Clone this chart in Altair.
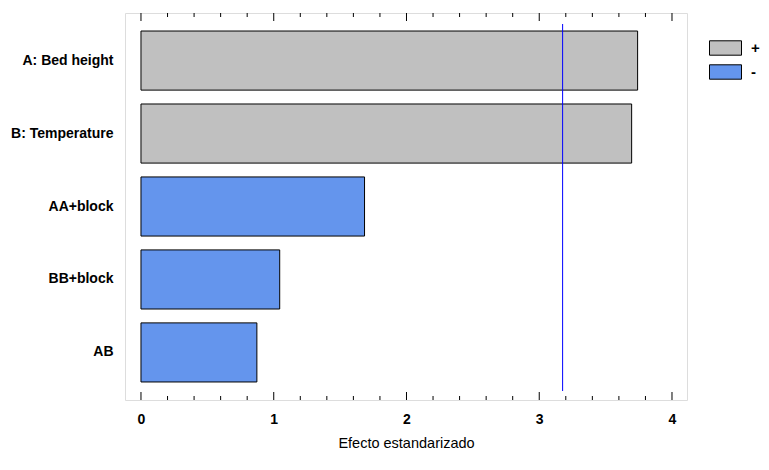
import altair as alt
import pandas as pd

# ---- data ----
factors = ["A: Bed height", "B: Temperature", "AA+block", "BB+block", "AB"]
effects = [3.741, 3.696, 1.684, 1.045, 0.873]
signs = ["+", "+", "-", "-", "-"]
critical_value = [3.176]
major_ticks = [0, 1, 2, 3, 4]
minor_ticks = [0.2, 0.4, 0.6, 0.8, 1.2, 1.4, 1.6, 1.8, 2.2, 2.4, 2.6, 2.8,
               3.2, 3.4, 3.6, 3.8]

W, H = 562, 387
FONT = "Liberation Sans, Arial, sans-serif"

df = pd.DataFrame({"factor": factors, "effect": effects, "sign": signs})
xscale = alt.Scale(domain=[-0.1204, 4.113], nice=False, zero=False)

bars = alt.Chart(df).mark_bar(stroke="black", strokeWidth=1, opacity=1).encode(
    y=alt.Y("factor:N", sort=factors,
            scale=alt.Scale(paddingInner=0.19, paddingOuter=0.247),
            axis=alt.Axis(title=None, ticks=False, domain=False, labelPadding=12,
                          labelFont=FONT, labelFontSize=14, labelFontWeight="bold",
                          labelColor="black", labelLimit=200)),
    x=alt.X("effect:Q", scale=xscale,
            axis=alt.Axis(title="Efecto estandarizado", values=major_ticks, format="d",
                          ticks=False, domain=False, grid=False, labelPadding=12,
                          labelFont=FONT, labelFontSize=14, labelFontWeight="bold",
                          labelColor="black", titleFont=FONT, titleFontSize=14.5,
                          titleFontWeight="normal", titleColor="black",
                          titlePadding=10)),
    x2=alt.datum(0),
    color=alt.Color("sign:N",
                    scale=alt.Scale(domain=["+", "-"], range=["#C0C0C0", "#6495ED"]),
                    legend=alt.Legend(title=None, orient="none", legendX=584, legendY=27,
                                      symbolType="M-1,-0.45H1V0.45H-1Z",
                                      symbolSize=1024,
                                      symbolStrokeColor="black", symbolStrokeWidth=1,
                                      symbolOpacity=1, labelFont=FONT, labelFontSize=15,
                                      labelFontWeight="bold", labelColor="black",
                                      labelOffset=9, rowPadding=8, clipHeight=16,
                                      padding=0)),
)

vline = alt.Chart(pd.DataFrame({"v": critical_value})).mark_rule(
    color="#0000FF", strokeWidth=1).encode(
    x=alt.X("v:Q", scale=xscale), y=alt.value(11), y2=alt.value(378))

maj = pd.DataFrame({"t": major_ticks})
mnr = pd.DataFrame({"t": minor_ticks})

def ticks(data, y0, y1):
    return alt.Chart(data).mark_rule(color="black", strokeWidth=1).encode(
        x=alt.X("t:Q", scale=xscale), y=alt.value(y0), y2=alt.value(y1))

layers = [bars, vline,
          ticks(maj, 0, 8), ticks(mnr, 0, 4),
          ticks(maj, H, H - 8), ticks(mnr, H, H - 4)]

chart = alt.layer(*layers).properties(
    width=W, height=H,
    autosize=alt.AutoSizeParams(type="none"),
    padding={"left": 117, "top": 5, "right": 74, "bottom": 62},
).configure_view(stroke="black", strokeWidth=1).configure(background="white")

chart.save("out.html", embed_options={"renderer": "svg", "actions": False})
